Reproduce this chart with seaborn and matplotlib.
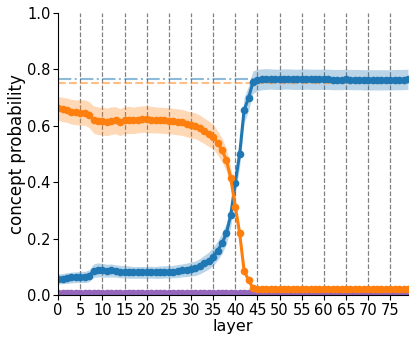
import numpy as np
import matplotlib
matplotlib.use("Agg")
import matplotlib.pyplot as plt
import pandas as pd
import seaborn as sns

# 層ごとの概念確率 (平均) と帯の幅
layers = list(range(80))

blue_mean = [
    0.057, 0.058, 0.060, 0.062, 0.063, 0.064, 0.064, 0.068, 0.086, 0.089,
    0.088, 0.086, 0.087, 0.085, 0.083, 0.083, 0.081, 0.080, 0.080, 0.080,
    0.080, 0.081, 0.080, 0.081, 0.082, 0.082, 0.083, 0.085, 0.087, 0.089,
    0.092, 0.095, 0.102, 0.112, 0.122, 0.136, 0.157, 0.183, 0.219, 0.284,
    0.398, 0.500, 0.656, 0.698, 0.755, 0.762, 0.765, 0.766, 0.766, 0.765,
    0.765, 0.766, 0.766, 0.765, 0.765, 0.765, 0.766, 0.765, 0.765, 0.765,
    0.765, 0.765, 0.764, 0.764, 0.764, 0.765, 0.764, 0.764, 0.764, 0.763,
    0.763, 0.763, 0.763, 0.763, 0.763, 0.763, 0.764, 0.764, 0.764, 0.765,
]
blue_err = [
    0.018, 0.018, 0.019, 0.019, 0.019, 0.020, 0.020, 0.021, 0.024, 0.025,
    0.024, 0.023, 0.023, 0.022, 0.022, 0.022, 0.022, 0.021, 0.021, 0.021,
    0.021, 0.021, 0.021, 0.022, 0.022, 0.022, 0.022, 0.023, 0.023, 0.024,
    0.025, 0.026, 0.027, 0.029, 0.030, 0.032, 0.034, 0.036, 0.038, 0.040,
    0.042, 0.044, 0.045, 0.044, 0.040, 0.038, 0.037, 0.037, 0.036, 0.036,
    0.036, 0.036, 0.036, 0.036, 0.036, 0.036, 0.036, 0.036, 0.036, 0.036,
    0.036, 0.036, 0.036, 0.036, 0.036, 0.036, 0.036, 0.036, 0.036, 0.036,
    0.036, 0.036, 0.036, 0.036, 0.036, 0.036, 0.036, 0.036, 0.036, 0.036,
]

orange_mean = [
    0.662, 0.658, 0.655, 0.650, 0.648, 0.647, 0.647, 0.640, 0.622, 0.618,
    0.617, 0.614, 0.618, 0.620, 0.613, 0.620, 0.621, 0.619, 0.622, 0.624,
    0.624, 0.622, 0.621, 0.620, 0.619, 0.618, 0.616, 0.614, 0.612, 0.607,
    0.603, 0.600, 0.592, 0.582, 0.572, 0.562, 0.540, 0.514, 0.479, 0.414,
    0.313, 0.219, 0.086, 0.053, 0.024, 0.022, 0.022, 0.022, 0.022, 0.022,
    0.022, 0.022, 0.022, 0.022, 0.022, 0.022, 0.022, 0.022, 0.022, 0.022,
    0.022, 0.022, 0.022, 0.022, 0.022, 0.022, 0.022, 0.022, 0.022, 0.022,
    0.022, 0.022, 0.022, 0.022, 0.022, 0.022, 0.022, 0.022, 0.022, 0.022,
]
orange_err = [
    0.042, 0.043, 0.043, 0.044, 0.044, 0.045, 0.045, 0.046, 0.048, 0.049,
    0.049, 0.049, 0.049, 0.048, 0.048, 0.048, 0.048, 0.047, 0.047, 0.047,
    0.047, 0.047, 0.046, 0.046, 0.046, 0.046, 0.046, 0.046, 0.046, 0.046,
    0.046, 0.046, 0.046, 0.045, 0.045, 0.044, 0.043, 0.042, 0.040, 0.036,
    0.030, 0.022, 0.012, 0.009, 0.007, 0.007, 0.007, 0.007, 0.007, 0.007,
    0.007, 0.007, 0.007, 0.007, 0.007, 0.007, 0.007, 0.007, 0.007, 0.007,
    0.007, 0.007, 0.007, 0.007, 0.007, 0.007, 0.007, 0.007, 0.007, 0.007,
    0.007, 0.007, 0.007, 0.007, 0.007, 0.007, 0.007, 0.007, 0.007, 0.007,
]

purple_mean = [0.008] * 80
purple_err = [0.005] * 80

# 参照線 (水平)
blue_ref = 0.765
orange_ref = 0.752
purple_ref = 0.014

df = pd.DataFrame({
    "layer": layers * 3,
    "prob": blue_mean + orange_mean + purple_mean,
    "err": blue_err + orange_err + purple_err,
    "concept": ["blue"] * 80 + ["orange"] * 80 + ["purple"] * 80,
})
palette = {"blue": "#1f77b4", "orange": "#ff7f0e", "purple": "#9467bd"}

sns.set_style("ticks", {"axes.edgecolor": "black", "xtick.color": "black",
                        "ytick.color": "black", "text.color": "black",
                        "axes.labelcolor": "black"})
plt.rcParams["font.family"] = ["DejaVu Sans"]

fig, ax = plt.subplots(figsize=(4.15, 3.43), dpi=100)
fig.subplots_adjust(left=0.14, right=0.983, top=0.962, bottom=0.14)

for x in range(5, 80, 5):
    ax.axvline(x, color="gray", linestyle="--", linewidth=0.9, zorder=0)

ax.axhline(blue_ref, color=palette["blue"], linestyle="-.", alpha=0.5, linewidth=1.5)
ax.axhline(orange_ref, color=palette["orange"], linestyle="--", alpha=0.5, linewidth=1.5)
ax.axhline(purple_ref, color=palette["purple"], linestyle=":", alpha=0.5, linewidth=1.5)

for name in ["purple", "blue", "orange"]:
    d = df[df["concept"] == name]
    ax.fill_between(d["layer"], d["prob"] - d["err"], d["prob"] + d["err"],
                    color=palette[name], alpha=0.3, linewidth=0)

sns.lineplot(data=df, x="layer", y="prob", hue="concept", palette=palette,
             hue_order=["purple", "blue", "orange"],
             marker="o", markersize=5.5, markeredgewidth=0, linewidth=2.2,
             legend=False, ax=ax)

ax.set_xlim(0, 79)
ax.set_ylim(0, 1.0)
ax.set_xticks(range(0, 80, 5))
ax.set_yticks([0.0, 0.2, 0.4, 0.6, 0.8, 1.0])
ax.tick_params(labelsize=10.5, pad=2)
ax.set_xlabel("layer", fontsize=11.5, labelpad=1)
ax.set_ylabel("concept probability", fontsize=12, labelpad=1)
sns.despine(ax=ax)

fig.savefig("out.png", dpi=100)
